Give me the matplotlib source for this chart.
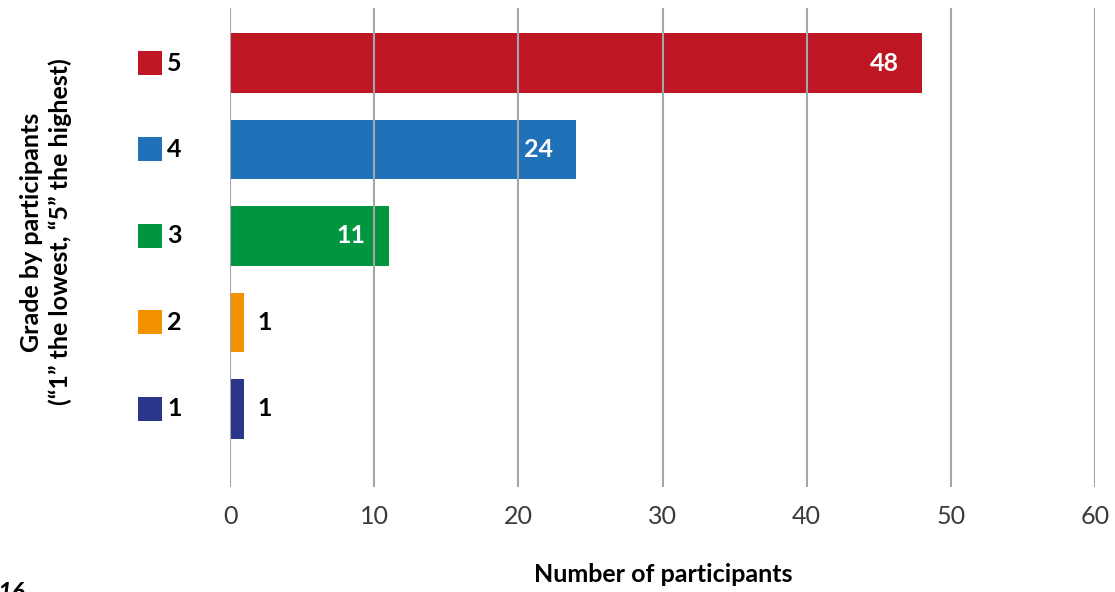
import matplotlib.pyplot as plt
from matplotlib.transforms import blended_transform_factory

# grades from lowest to highest, with number of participants giving each
grades = ['1', '2', '3', '4', '5']
counts = [1, 1, 11, 24, 48]
colors = ['#2a3689', '#f39200', '#009640', '#1f71b8', '#be1622']
xticks = [0, 10, 20, 30, 40, 50, 60]

plt.rcParams['font.family'] = ['Lato', 'DejaVu Sans']
FS = 18

fig = plt.figure(figsize=(11.15, 5.92), dpi=100)
ax = fig.add_axes([0.2063, 0.1774, 0.7758, 0.8091])

ypos = list(range(1, len(grades) + 1))
ax.barh(ypos, counts, height=0.69, color=colors, zorder=2)

ax.set_xlim(0, 60)
ax.set_ylim(0.098, 5.636)
ax.set_xticks(xticks)
ax.set_xticklabels([str(t) for t in xticks], fontsize=FS, color='#3a3a3a')
ax.tick_params(axis='x', length=0, pad=13)
ax.set_yticks([])
for s in ax.spines.values():
    s.set_visible(False)

# vertical grid drawn over the bars
for t in xticks:
    ax.axvline(t, color='#a3a7ab', linewidth=1.5, zorder=3)

# value labels: inside the bar when it is long enough, else just past its end
for y, c in zip(ypos, counts):
    if c > 5:
        ax.text(c - 1.6, y, str(c), ha='right', va='center', color='white',
                fontsize=FS, fontweight='bold', zorder=4)
    else:
        ax.text(c + 0.9, y, str(c), ha='left', va='center', color='black',
                fontsize=FS, fontweight='bold', zorder=4)

# category keys: coloured square plus grade number left of the plot
tr = blended_transform_factory(fig.transFigure, ax.transData)
for y, g, col in zip(ypos, grades, colors):
    ax.scatter([149.5 / 1115], [y], transform=tr, marker='s', s=275, color=col,
               clip_on=False, linewidths=0)
    ax.text(167 / 1115, y, g, transform=tr, ha='left', va='center',
            fontsize=FS, fontweight='bold')

fig.text(46 / 1115, 1 - 232 / 592, 'Grade by participants\n(\u201c1\u201d the lowest, \u201c5\u201d the highest)',
         rotation=90, ha='center', va='center', fontsize=FS, fontweight='bold',
         linespacing=1.3)
fig.text(663 / 1115, 1 - 575 / 592, 'Number of participants', ha='center', va='center',
         fontsize=FS, fontweight='bold')
fig.text(-2 / 1115, 1 - 581 / 592, '16', ha='left', va='top', fontsize=FS,
         fontweight='bold', style='italic')

fig.savefig('out.png', dpi=100)
